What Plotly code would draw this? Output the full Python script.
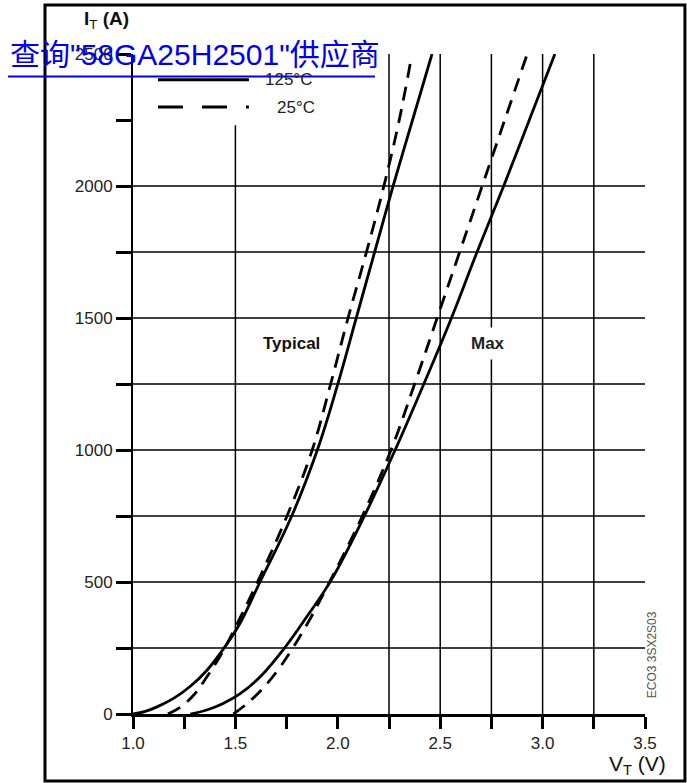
import plotly.graph_objects as go

# On-state characteristics: V_T (V) vs I_T (A)
typ_125_v = [1.00, 1.06, 1.12, 1.20, 1.28, 1.36, 1.44, 1.52, 1.62, 1.775, 1.90, 2.00, 2.09, 2.18, 2.27, 2.365, 2.46]
typ_125_i = [0, 10, 28, 60, 105, 165, 245, 340, 500, 750, 1000, 1250, 1500, 1750, 2000, 2250, 2500]

typ_25_v = [1.17, 1.23, 1.30, 1.36, 1.43, 1.52, 1.62, 1.76, 1.875, 1.965, 2.05, 2.14, 2.225, 2.30, 2.36]
typ_25_i = [0, 25, 75, 140, 225, 360, 520, 765, 1000, 1250, 1500, 1750, 2000, 2250, 2490]

max_125_v = [1.28, 1.36, 1.44, 1.52, 1.62, 1.74, 1.85, 1.97, 2.13, 2.28, 2.42, 2.555, 2.68, 2.81, 2.935, 3.06]
max_125_i = [0, 15, 40, 75, 140, 250, 370, 510, 750, 1000, 1250, 1500, 1750, 2000, 2250, 2500]

max_25_v = [1.49, 1.55, 1.60, 1.66, 1.72, 1.78, 1.85, 1.96, 2.12, 2.26, 2.375, 2.485, 2.595, 2.705, 2.815, 2.925]
max_25_i = [0, 35, 70, 120, 180, 250, 340, 500, 750, 1000, 1250, 1500, 1750, 2000, 2250, 2500]

x_tick_vals = [1.0, 1.25, 1.5, 1.75, 2.0, 2.25, 2.5, 2.75, 3.0, 3.25, 3.5]
x_tick_text = ["1.0", "", "1.5", "", "2.0", "", "2.5", "", "3.0", "", "3.5"]
y_tick_vals = [0, 250, 500, 750, 1000, 1250, 1500, 1750, 2000, 2250, 2500]
y_tick_text = ["0", "", "500", "", "1000", "", "1500", "", "2000", "", "2500"]

h_grid = [250, 500, 750, 1000, 1250, 1500, 1750, 2000]
v_grid = [2.25, 2.5, 2.75, 3.0, 3.25]

FONT = "Liberation Sans, Arial, sans-serif"

fig = go.Figure()

curve_style = dict(mode="lines", line_shape="spline", showlegend=False, hoverinfo="skip")
fig.add_trace(go.Scatter(x=typ_125_v, y=typ_125_i, line=dict(color="black", width=2.8, smoothing=1.1), **curve_style))
fig.add_trace(go.Scatter(x=typ_25_v, y=typ_25_i, line=dict(color="black", width=2.8, dash="14px,9px", smoothing=1.1), **curve_style))
fig.add_trace(go.Scatter(x=max_125_v, y=max_125_i, line=dict(color="black", width=2.8, smoothing=1.1), **curve_style))
fig.add_trace(go.Scatter(x=max_25_v, y=max_25_i, line=dict(color="black", width=2.8, dash="14px,9px", smoothing=1.1), **curve_style))

shapes = []
for yv in h_grid:
    shapes.append(dict(type="line", xref="x", yref="y", x0=1.0, x1=3.5, y0=yv, y1=yv,
                       line=dict(color="black", width=1.5), layer="below"))
for xv in v_grid:
    shapes.append(dict(type="line", xref="x", yref="y", x0=xv, x1=xv, y0=0, y1=2505,
                       line=dict(color="black", width=1.5), layer="below"))
shapes.append(dict(type="line", xref="x", yref="y", x0=1.5, x1=1.5, y0=0, y1=2230,
                   line=dict(color="black", width=1.5), layer="below"))

# legend samples
shapes.append(dict(type="line", xref="x", yref="y", x0=1.122, x1=1.566, y0=2402, y1=2402,
                   line=dict(color="black", width=3)))
shapes.append(dict(type="line", xref="x", yref="y", x0=1.122, x1=1.566, y0=2299, y1=2299,
                   line=dict(color="black", width=3, dash="25px,19px")))

# outer frame
shapes.append(dict(type="rect", xref="paper", yref="paper", x0=-0.1719, x1=1.078, y0=-0.1015, y1=1.0742,
                   line=dict(color="black", width=3)))

# link underline
shapes.append(dict(type="line", xref="paper", yref="paper", x0=-0.244, x1=0.4727, y0=0.966, y1=0.966,
                   line=dict(color="#0000EE", width=2)))

annotations = [
    dict(xref="x", yref="y", x=1.635, y=2402, text="125°C", showarrow=False, xanchor="left", yanchor="middle",
         font=dict(family=FONT, size=17, color="#222")),
    dict(xref="x", yref="y", x=1.693, y=2299, text="25°C", showarrow=False, xanchor="left", yanchor="middle",
         font=dict(family=FONT, size=17, color="#222")),
    dict(xref="x", yref="y", x=1.776, y=1405, text="<b>Typical</b>", showarrow=False,
         xanchor="center", yanchor="middle", font=dict(family=FONT, size=17, color="#111")),
    dict(xref="x", yref="y", x=2.733, y=1405, text="<b>Max</b>", showarrow=False, bgcolor="white", borderpad=6,
         xanchor="center", yanchor="middle", font=dict(family=FONT, size=17, color="#222")),
    dict(xref="paper", yref="paper", x=-0.0527, y=1.0515, text="<b>I</b><sub>T</sub> <b>(A)</b>",
         xanchor="center", yanchor="middle", showarrow=False, font=dict(family=FONT, size=19, color="#111")),
    dict(xref="paper", yref="paper", x=0.986, y=-0.0773, text="V<sub>T</sub> (V)",
         xanchor="center", yanchor="middle", showarrow=False, font=dict(family=FONT, size=21, color="#111")),
    dict(xref="paper", yref="paper", x=1.0137, y=0.089, text="ECO3 3SX2S03", textangle=-90,
         xanchor="center", yanchor="middle", showarrow=False, font=dict(family=FONT, size=12, color="#555")),
    dict(xref="paper", yref="paper", x=-0.244, y=1.0, xanchor="left", yanchor="middle",
         text="查询\"58GA25H2501\"供应商", showarrow=False,
         font=dict(family="Liberation Sans, Noto Sans CJK SC", size=30, color="#0000EE")),
]

fig.update_layout(
    width=687, height=783, autosize=False,
    margin=dict(l=133, r=42, t=54, b=69, pad=0),
    paper_bgcolor="white", plot_bgcolor="white",
    shapes=shapes, annotations=annotations,
    xaxis=dict(range=[1.0, 3.5], tickmode="array", tickvals=x_tick_vals, ticktext=x_tick_text,
               showgrid=False, zeroline=False, showline=True, linecolor="black", linewidth=3,
               ticks="outside", ticklen=12, tickwidth=2.5, tickcolor="black",
               tickfont=dict(family=FONT, size=17, color="#222")),
    yaxis=dict(range=[0, 2500], tickmode="array", tickvals=y_tick_vals, ticktext=y_tick_text,
               showgrid=False, zeroline=False, showline=True, linecolor="black", linewidth=2,
               ticks="outside", ticklen=15, tickwidth=2.5, tickcolor="black",
               tickfont=dict(family=FONT, size=17, color="#222")),
)

fig.write_html("out.html")
